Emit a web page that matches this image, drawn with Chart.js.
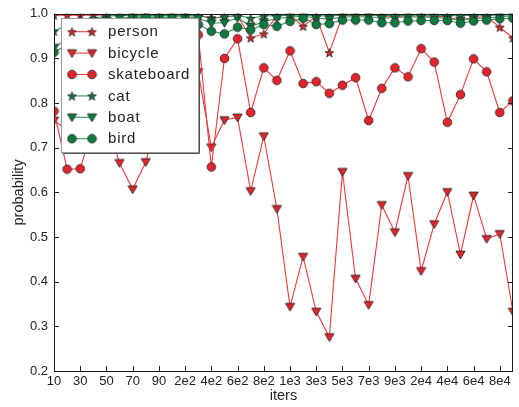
<!DOCTYPE html>
<html>
<head>
<meta charset="utf-8">
<script src="https://cdn.jsdelivr.net/npm/chart.js@4"></script>
<style>
  html, body { margin: 0; padding: 0; background: #fff; }
  #wrap { position: relative; width: 519px; height: 407px; }
</style>
</head>
<body>
<div id="wrap"><canvas id="chart" width="519" height="407"></canvas></div>
<script>
// x positions (iterations), one per point
const iters = [10, 20, 30, 40, 50, 60, 70, 80, 90,
  100, 200, 300, 400, 500, 600, 700, 800, 900,
  1000, 2000, 3000, 4000, 5000, 6000, 7000, 8000, 9000,
  10000, 20000, 30000, 40000, 50000, 60000, 70000, 80000, 90000];
// labels under every other point
const tickLabels = ['10', '30', '50', '70', '90', '2e2', '4e2', '6e2', '8e2',
  '1e3', '3e3', '5e3', '7e3', '9e3', '2e4', '4e4', '6e4', '8e4'];
const yTicks = [0.2, 0.3, 0.4, 0.5, 0.6, 0.7, 0.8, 0.9, 1.0];

const person = [0.997, 0.997, 0.997, 0.997, 0.997, 0.997, 0.997, 0.997, 0.997,
  0.997, 0.996, 0.995, 0.991, 0.993, 0.996, 0.946, 0.955, 0.996,
  0.997, 0.972, 0.995, 0.913, 0.996, 0.996, 0.997, 0.995, 0.994,
  0.995, 0.995, 0.994, 0.994, 0.985, 0.993, 0.993, 0.970, 0.946];
const bicycle = [0.761, 0.74, 0.71, 0.73, 0.76, 0.666, 0.607, 0.668, 0.78,
  0.83, 0.85, 0.870, 0.701, 0.762, 0.768, 0.603, 0.726, 0.563,
  0.344, 0.456, 0.333, 0.276, 0.646, 0.407, 0.348, 0.572, 0.511,
  0.637, 0.424, 0.529, 0.601, 0.461, 0.593, 0.496, 0.507, 0.333];
const skateboard = [0.782, 0.652, 0.653, 0.75, 0.80, 0.82, 0.85, 0.87, 0.89,
  0.91, 0.93, 0.953, 0.657, 0.900, 0.944, 0.779, 0.879, 0.851,
  0.917, 0.844, 0.848, 0.822, 0.840, 0.857, 0.761, 0.833, 0.879,
  0.859, 0.922, 0.892, 0.757, 0.819, 0.899, 0.870, 0.779, 0.805];
const cat = [0.961, 0.975, 0.985, 0.990, 0.995, 0.996, 0.996, 0.996, 0.996,
  0.996, 0.996, 0.996, 0.990, 0.993, 0.997, 0.990, 0.995, 0.996,
  0.997, 0.997, 0.995, 0.996, 0.997, 0.997, 0.997, 0.997, 0.996,
  0.997, 0.997, 0.997, 0.996, 0.996, 0.997, 0.997, 0.997, 0.998];
const boat = [0.924, 0.945, 0.960, 0.975, 0.985, 0.990, 0.993, 0.994, 0.992,
  0.993, 0.994, 0.990, 0.979, 0.980, 0.991, 0.972, 0.982, 0.990,
  0.992, 0.995, 0.990, 0.988, 0.993, 0.993, 0.994, 0.990, 0.992,
  0.993, 0.993, 0.992, 0.990, 0.985, 0.990, 0.990, 0.994, 0.995];
const bird = [0.914, 0.930, 0.945, 0.960, 0.970, 0.980, 0.990, 0.992, 0.990,
  0.990, 0.988, 0.976, 0.961, 0.955, 0.970, 0.964, 0.976, 0.972,
  0.983, 0.990, 0.976, 0.978, 0.986, 0.986, 0.986, 0.980, 0.980,
  0.984, 0.985, 0.985, 0.985, 0.979, 0.984, 0.986, 0.989, 0.990];

const RED = '#e8222a';
const RED_LINE = '#f0383a';
const GREEN = '#0c7a3c';
const GREEN_LINE = '#2e9a5e';
const EDGE = '#2a2a2a';

// little canvases used as point styles (filled star / down triangle / circle)
function marker(shape, fill) {
  const s = 11;
  const c = document.createElement('canvas');
  c.width = s; c.height = s;
  const g = c.getContext('2d');
  const m = s / 2;
  g.beginPath();
  if (shape === 'star') {
    for (let k = 0; k < 10; k++) {
      const r = k % 2 === 0 ? 4.6 : 1.9;
      const a = -Math.PI / 2 + k * Math.PI / 5;
      const px = m + r * Math.cos(a), py = m + 0.5 + r * Math.sin(a);
      if (k === 0) g.moveTo(px, py); else g.lineTo(px, py);
    }
  } else if (shape === 'tri') {
    g.moveTo(m - 4.6, m - 3.4);
    g.lineTo(m + 4.6, m - 3.4);
    g.lineTo(m, m + 4.4);
  } else {
    g.arc(m, m, 4.3, 0, Math.PI * 2);
  }
  g.closePath();
  g.fillStyle = fill;
  g.fill();
  g.lineWidth = 0.9;
  g.strokeStyle = EDGE;
  g.stroke();
  return c;
}

const series = [
  { label: 'person', values: person, shape: 'star', fill: RED, line: RED_LINE },
  { label: 'bicycle', values: bicycle, shape: 'tri', fill: RED, line: RED_LINE },
  { label: 'skateboard', values: skateboard, shape: 'circ', fill: RED, line: RED_LINE },
  { label: 'cat', values: cat, shape: 'star', fill: GREEN, line: GREEN_LINE },
  { label: 'boat', values: boat, shape: 'tri', fill: GREEN, line: GREEN_LINE },
  { label: 'bird', values: bird, shape: 'circ', fill: GREEN, line: GREEN_LINE },
];
series.forEach(s => { s.img = marker(s.shape, s.fill); });

const datasets = series.map((s, i) => ({
  label: s.label,
  data: s.values.map((v, j) => ({ x: j, y: v })),
  borderColor: s.line,
  backgroundColor: s.fill,
  borderWidth: 1.1,
  pointStyle: s.img,
  pointRadius: 5,
  tension: 0,
  order: series.length - i, // later series drawn on top, like matlab
}));

const frame = {
  id: 'frame',
  afterDatasetsDraw(chart) {
    const { ctx, chartArea: a, scales } = chart;
    ctx.save();
    ctx.strokeStyle = '#222';
    ctx.lineWidth = 1;
    ctx.beginPath();
    scales.x.ticks.forEach(t => {
      const px = Math.round(scales.x.getPixelForValue(t.value)) + 0.5;
      ctx.moveTo(px, a.bottom); ctx.lineTo(px, a.bottom - 5);
      ctx.moveTo(px, a.top); ctx.lineTo(px, a.top + 5);
    });
    scales.y.ticks.forEach(t => {
      const py = Math.round(scales.y.getPixelForValue(t.value)) + 0.5;
      ctx.moveTo(a.left, py); ctx.lineTo(a.left + 5, py);
      ctx.moveTo(a.right, py); ctx.lineTo(a.right - 5, py);
    });
    ctx.stroke();
    ctx.strokeStyle = '#1a1a1a';
    ctx.strokeRect(Math.round(a.left) + 0.5, Math.round(a.top) + 0.5,
      Math.round(a.right - a.left) - 1, Math.round(a.bottom - a.top));
    ctx.restore();
  },
  afterDraw(chart) {
    // legend box inside the axes, top-left
    const ctx = chart.ctx;
    const bx = 61.5, by = 18.5, bw = 137, bh = 134;
    ctx.save();
    ctx.fillStyle = '#fff';
    ctx.fillRect(bx, by, bw, bh);
    ctx.strokeStyle = '#9a9a9a';
    ctx.lineWidth = 1;
    ctx.strokeRect(bx, by, bw, bh);
    ctx.strokeStyle = '#555';
    ctx.beginPath();
    ctx.moveTo(bx + bw + 1, by + 1); ctx.lineTo(bx + bw + 1, by + bh + 1); ctx.lineTo(bx + 1, by + bh + 1);
    ctx.stroke();
    ctx.font = '15px "Liberation Sans"';
    if ('letterSpacing' in ctx) ctx.letterSpacing = '0.8px';
    ctx.textBaseline = 'middle';
    ctx.fillStyle = '#222';
    series.forEach((s, i) => {
      const y = 31.7 + i * 21.4;
      ctx.strokeStyle = s.line;
      ctx.lineWidth = 1.1;
      ctx.beginPath(); ctx.moveTo(72, y); ctx.lineTo(92, y); ctx.stroke();
      ctx.drawImage(s.img, 72 - 5.5, y - 5.5);
      ctx.drawImage(s.img, 92 - 5.5, y - 5.5);
      ctx.fillText(s.label, 108, y + 0.5);
    });
    ctx.restore();
  }
};

Chart.defaults.font.family = '"Liberation Sans", Arial, sans-serif';
Chart.defaults.color = '#222';

new Chart(document.getElementById('chart').getContext('2d'), {
  type: 'line',
  data: { datasets },
  options: {
    responsive: false,
    animation: false,
    layout: { padding: { top: 10, right: 3, left: 0, bottom: 0 } },
    plugins: { legend: { display: false }, tooltip: { enabled: false } },
    scales: {
      x: {
        type: 'linear',
        min: 0,
        max: iters.length - 1,
        grid: { display: false, drawTicks: false },
        border: { display: false },
        afterBuildTicks: sc => { sc.ticks = tickLabels.map((_, k) => ({ value: k * 2 })); },
        afterFit: sc => { sc.height = 36; },
        ticks: {
          autoSkip: false,
          maxRotation: 0,
          padding: 3,
          font: { size: 13 },
          callback: v => tickLabels[v / 2],
        },
        title: { display: true, text: 'iters', font: { size: 14.5 }, padding: { top: 0, bottom: 2 } },
      },
      y: {
        min: 0.2,
        max: 1.0,
        grid: { display: false, drawTicks: false },
        border: { display: false },
        afterBuildTicks: sc => { sc.ticks = yTicks.map(v => ({ value: v })); },
        afterFit: sc => { sc.width = 54; },
        ticks: {
          padding: 6,
          font: { size: 13 },
          callback: v => v.toFixed(1),
        },
        title: { display: true, text: 'probability', font: { size: 14.5 }, padding: { top: 10, bottom: 0 } },
      },
    },
  },
  plugins: [frame],
});
</script>
</body>
</html>
